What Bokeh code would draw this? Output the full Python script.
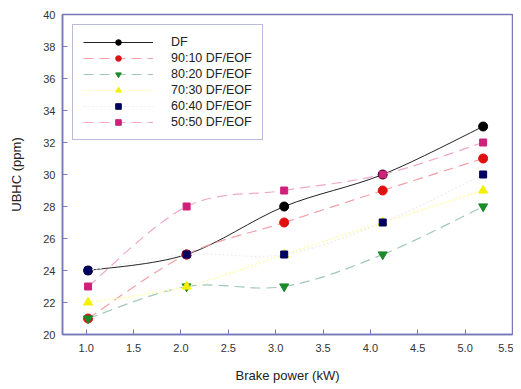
from bokeh.plotting import figure
from bokeh.models import Range1d, Legend, LegendItem, FixedTicker, ColumnDataSource, CustomJSTickFormatter
from bokeh.embed import file_html
from bokeh.resources import INLINE

power = [1.02, 2.06, 3.09, 4.13, 5.19]
series_names = ["DF", "90:10 DF/EOF", "80:20 DF/EOF", "70:30 DF/EOF", "60:40 DF/EOF", "50:50 DF/EOF"]
df = [24, 25, 28, 30, 33]
b90 = [21, 25, 27, 29, 31]
b80 = [21, 23, 23, 25, 28]
b70 = [22, 23, 25, 27, 29]
b60 = [24, 25, 25, 27, 30]
b50 = [23, 28, 29, 30, 32]
x_ticks = [1.0, 1.5, 2.0, 2.5, 3.0, 3.5, 4.0, 4.5, 5.0, 5.5]
y_ticks = list(range(20, 41, 2))

styles = [
    dict(line="#222222", dash="solid", lw=1.0, marker="circle", mcol="#000000", size=9),
    dict(line="#f0a0a8", dash="10 6", lw=1.2, marker="circle", mcol="#e01010", size=9),
    dict(line="#a0c8b8", dash="10 6", lw=1.2, marker="inverted_triangle", mcol="#1a8a2a", size=9),
    dict(line="#ffffa0", dash="2 2", lw=1.2, marker="triangle", mcol="#f4f000", size=9),
    dict(line="#eeeeee", dash="2 2", lw=1.2, marker="square", mcol="#000060", size=7),
    dict(line="#f0a8c8", dash="10 6", lw=1.2, marker="square", mcol="#d0207a", size=7),
]

p = figure(width=513, height=386, output_backend="svg", toolbar_location=None,
           x_range=Range1d(0.75, 5.5), y_range=Range1d(20, 40),
           min_border_left=62, min_border_right=1, min_border_top=14, min_border_bottom=52)
p.grid.visible = False
frame = "#7878b8"
p.outline_line_color = frame
p.outline_line_width = 1.5
for ax in (p.xaxis[0], p.yaxis[0]):
    ax.axis_line_color = frame
    ax.axis_line_width = 1.5
    ax.major_tick_line_color = frame
    ax.major_tick_in = 5
    ax.major_tick_out = 0
    ax.minor_tick_line_color = None
    ax.major_label_text_font = "Liberation Sans"
    ax.major_label_text_font_size = "11px"
    ax.major_label_text_color = "#333333"
    ax.axis_label_text_font = "Liberation Sans"
    ax.axis_label_text_font_size = "13px"
    ax.axis_label_text_font_style = "normal"
    ax.axis_label_text_color = "#222222"
p.xaxis.ticker = FixedTicker(ticks=x_ticks)
p.yaxis.ticker = FixedTicker(ticks=y_ticks)
p.xaxis.formatter = CustomJSTickFormatter(code="return tick.toFixed(1);")
p.xaxis.axis_label = "Brake power (kW)"
p.yaxis.axis_label = "UBHC (ppm)"
p.xaxis.major_label_standoff = 9
p.xaxis.axis_label_standoff = 13
p.yaxis.major_label_standoff = 7
p.yaxis.axis_label_standoff = 16


def bezier_data(xs, ys):
    n = len(xs)
    d = dict(x0=[], y0=[], x1=[], y1=[], cx0=[], cy0=[], cx1=[], cy1=[])
    for i in range(n - 1):
        xa, ya = xs[max(i - 1, 0)], ys[max(i - 1, 0)]
        xb, yb = xs[i], ys[i]
        xc, yc = xs[i + 1], ys[i + 1]
        xd, yd = xs[min(i + 2, n - 1)], ys[min(i + 2, n - 1)]
        d["x0"].append(xb); d["y0"].append(yb)
        d["x1"].append(xc); d["y1"].append(yc)
        d["cx0"].append(xb + (xc - xa) / 6); d["cy0"].append(yb + (yc - ya) / 6)
        d["cx1"].append(xc - (xd - xb) / 6); d["cy1"].append(yc - (yd - yb) / 6)
    return ColumnDataSource(d)


items = []
for name, ys, st in zip(series_names, [df, b90, b80, b70, b60, b50], styles):
    r1 = p.bezier(x0="x0", y0="y0", x1="x1", y1="y1", cx0="cx0", cy0="cy0", cx1="cx1", cy1="cy1",
                  source=bezier_data(power, ys), line_color=st["line"], line_width=st["lw"],
                  line_dash=st["dash"])
    r2 = p.scatter(power, ys, marker=st["marker"], size=st["size"], fill_color=st["mcol"],
                   line_color=st["mcol"])
    items.append(LegendItem(label=name, renderers=[r1, r2]))

legend = Legend(items=items, location="top_left")
legend.border_line_color = frame
legend.border_line_width = 1.5
legend.label_text_font = "Liberation Sans"
legend.label_text_font_size = "12.5px"
legend.label_text_color = "#222222"
legend.glyph_width = 70
legend.glyph_height = 14
legend.label_standoff = 18
legend.label_width = 80
legend.spacing = 2
legend.padding = 10
legend.margin = 10
legend.label_height = 14
p.add_layout(legend)

open("out.html", "w").write(file_html(p, INLINE))
